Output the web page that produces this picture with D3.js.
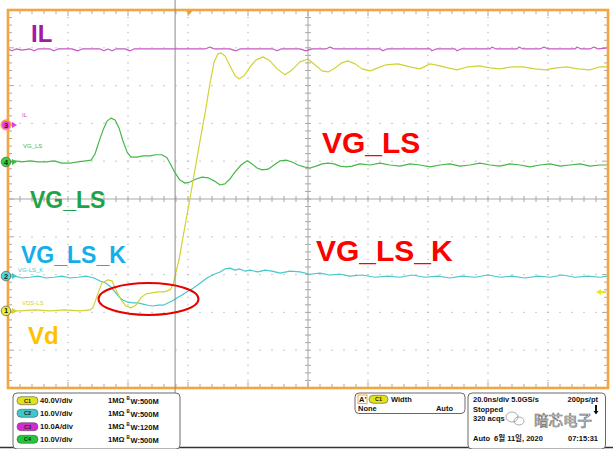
<!DOCTYPE html>
<html><head><meta charset="utf-8">
<script src="https://cdn.jsdelivr.net/npm/d3@7"></script>
<style>html,body{margin:0;padding:0;background:#fff;overflow:hidden}svg{display:block}text{font-family:"Liberation Sans",Arial,"Noto Sans CJK KR",sans-serif}</style>
</head><body><svg id="c" width="613" height="449"></svg>
<script>
// ---- scope settings ----
const timeWindow = [0, 200];            // ns, 20 ns/div, 10 div
const vertDivs = [-5, 5];
const channels = ["C1", "C2", "C3", "C4"];
const channelScales = [40, 10, 10, 10];  // units per division
const channelUnits = ["V/div", "V/div", "A/div", "V/div"];
const channelBW = ["500M", "500M", "120M", "500M"];
const channelOffsetsDiv = [-2.96, -2.04, 1.96, 0.98];
const channelNums = ["1", "2", "3", "4"];
const traceTags = ["VDS-LS", "VG-LS_K", "IL", "VG_LS"];
const bigLabels = ["Vd", "VG_LS_K", "IL", "VG_LS"];
const cursorTime = 55.7;
const triggerTime = 60.4;
const triggerLevelV = 20;

// ---- waveforms: [time ns, value] ----
const vdsPoints = [[0,0],[4,0],[9,1.0],[14,0],[19,1.0],[24,0],[27.3,1.0],[28.3,3.2],[29.7,15.9],[31.3,29.6],[33.3,32.8],[34.7,31.7],[36,22.2],[37.7,11.6],[39.3,5.3],[41,3.2],[42.7,6.3],[44.3,13.8],[46,18.0],[48,19.0],[50,20.1],[52,20.1],[54,22.2],[55,27.5],[56,41.3],[57,54.0],[59,90.0],[60.7,119.6],[62.3,149.3],[64,179.9],[65.7,209.5],[67.3,240.3],[68.7,263.5],[70,272.0],[71,273.0],[72.3,269.9],[74,259.3],[75.7,248.8],[77,245.5],[78.7,248.8],[80.7,258.3],[82.7,265.6],[85,268.8],[87.3,264.6],[89.7,256.1],[92.3,249.8],[94.7,255.0],[97.3,263.5],[100,266.6],[102.3,260.4],[104.7,254.0],[106.7,252.9],[109,257.1],[111.3,262.5],[113.3,264.6],[115.7,261.4],[118,256.1],[120.7,254.0],[123.3,257.1],[126,260.4],[130,261.4],[134,258.3],[137.3,256.1],[140.7,261.4],[144,259.3],[146.7,257.1],[149.7,255.0],[153.3,258.3],[157.3,259.3],[160.7,257.1],[164,256.1],[168,258.3],[171.7,258.3],[175.7,256.1],[179,255.0],[182.7,257.1],[186.3,258.3],[190,256.1],[194,255.0],[197.3,258.3],[200,258.3]];
const vgkPoints = [[0,-0.3],[2.3,0],[4.7,-0.5],[7.3,-0.3],[10,0],[12.7,-0.5],[15.3,-0.3],[18,0],[20.7,-0.5],[23.3,-0.3],[26,0],[28.7,-0.5],[30.7,-1.3],[32.7,-1.9],[34.3,-2.9],[35.7,-4.2],[37,-5.5],[38.3,-6.3],[40,-6.9],[41.7,-7.1],[43.3,-7.1],[45,-7.4],[46.7,-7.7],[48.3,-7.9],[50,-7.7],[51.7,-7.7],[53.3,-7.1],[54.7,-6.6],[56.3,-5.8],[58,-5.0],[60,-4.0],[61.7,-3.2],[64,-1.9],[66.3,-0.5],[68.7,0.5],[70.7,1.1],[72.3,1.9],[74,2.1],[75.7,1.6],[77.3,1.9],[79,1.3],[80.7,1.6],[83.3,1.1],[85.7,1.6],[88,1.3],[90.7,0.8],[94,1.3],[97.3,1.1],[100.7,0.5],[104,0.8],[107.3,0.3],[110.7,0.5],[114,0],[118,0.3],[122.3,-0.3],[126.7,0],[130.7,-0.3],[134.7,0.3],[139,-0.3],[143.3,0],[147.3,-0.5],[151.3,0],[155.7,-0.3],[160,0.3],[164,-0.3],[168,0],[172.3,-0.5],[176.7,0],[180.7,-0.3],[184.7,0.3],[189,-0.3],[193.3,0],[197.3,-0.3],[200,0]];
const ilPoints = [[0,20.1],[1.3,19.6],[2.7,20.1],[4.7,19.8],[7.3,20.1],[8.7,19.6],[10,20.1],[14,20.1],[15.3,19.6],[16.7,20.1],[21.3,20.1],[23.3,19.6],[24.7,20.1],[30.7,20.1],[32,19.6],[33.3,20.1],[34.7,19.6],[36,20.1],[39,20.1],[40.7,19.6],[42,20.1],[50.7,20.1],[57.3,20.1],[65.7,20.1],[67.3,20.6],[68.7,20.1],[74,20.1],[76,19.6],[77.3,20.1],[88.3,20.1],[89.7,19.6],[91,20.1],[97.3,20.1],[99.3,19.6],[101.3,20.1],[106,20.1],[107.3,20.6],[108.7,20.1],[124,20.1],[125,19.6],[126.3,20.1],[140.7,20.1],[141.3,19.6],[142.7,20.1],[149,20.1],[149.7,19.6],[151,20.1],[160.7,20.1],[161.3,20.6],[162.7,20.1],[169.7,20.1],[170.3,20.6],[171.7,20.1],[177.3,20.1],[178.7,20.6],[180,20.1],[189,20.1],[189.7,20.6],[191,20.1],[194,20.1],[195.3,20.6],[196.7,20.1],[200,20.4]];
const vgsPoints = [[0,0],[2.3,0.3],[4.7,0],[7.3,0.3],[10,0],[12.7,0],[15.3,0.3],[18,-0.3],[20.7,-0.3],[23.3,0],[26,0.3],[27.7,0.5],[29,2.1],[30.3,5.3],[31.7,8.5],[33,10.8],[34.3,11.6],[35.7,11.1],[37,9.0],[38.3,5.6],[39.7,2.6],[41,1.3],[43,1.3],[45,1.6],[47.3,1.6],[49.3,1.9],[51.3,1.9],[53,1.1],[54.3,-0.8],[55.7,-2.9],[57.3,-4.8],[59,-5.6],[60.7,-5.3],[62.7,-4.5],[64.7,-4.0],[66.7,-4.2],[68.7,-5.0],[70.7,-6.1],[72.3,-5.8],[74,-4.5],[75.7,-2.6],[77.7,-0.8],[79.7,0.3],[81.3,-0.5],[83,-1.6],[84.7,-2.1],[86.7,-1.9],[88.7,-0.8],[90.7,0.3],[92.7,0.5],[94.7,0],[96.7,-0.8],[98.7,-1.3],[100.7,-1.6],[102.7,-1.1],[104.7,-0.5],[106.7,-0.3],[108.7,-0.5],[110.7,-1.1],[112.7,-1.3],[114.7,-1.1],[117.3,-0.5],[120.7,-0.8],[124,-0.3],[127.3,-0.8],[130.7,-1.1],[134,-0.5],[137.3,-0.8],[140.7,-1.3],[144,-0.8],[147.3,-0.5],[150.7,-1.1],[154,-0.8],[157.3,-0.3],[160.7,-0.8],[164,-1.1],[167.3,-0.5],[170.7,-0.8],[174,-1.3],[177.3,-0.8],[180.7,-0.5],[184,-1.1],[187.3,-0.8],[190.7,-0.5],[194,-1.1],[197.3,-0.8],[200,-0.8]];
const tracePoints = [vdsPoints, vgkPoints, ilPoints, vgsPoints];

// info panel text
const timebaseText = ["20.0ns/div", "5.0GS/s", "200ps/pt"];
const statusText = ["Stopped", "320 acqs"];
const dateText = ["Auto", "6월 11일, 2020", "07:15:31"];
const measureText = ["A'", "C1", "Width", "None", "Auto"];
const watermark = "暗芯电子";

// ---- styles ----
const traceColors = ["#d2d236", "#46c8cc", "#c45ac4", "#45b848"];
const markerFill = ["#eeee3a", "#4fd8d8", "#f040f0", "#35d435"];
const pillColors = ["#e2e21a", "#3cc8cc", "#d42ad4", "#22c83a"];
const labelColors = ["#ffc000", "#14aeea", "#a418a8", "#1fa34a"];

const svg = d3.select("#c");
const x = d3.scaleLinear().domain(timeWindow).range([8, 608]);
const y = d3.scaleLinear().domain(vertDivs).range([388, 10]);
const toDiv = (ch, v) => channelOffsetsDiv[ch] + v / channelScales[ch];

// grid dots
const g = svg.append("g");
const minorT = d3.range(timeWindow[0], timeWindow[1] + 0.01, 4);
const minorD = d3.range(-5, 5.001, 0.2);
d3.range(1, 10).filter(i => i !== 5).forEach(i => {
  const t = i * 20;
  g.selectAll(null).data(minorD.slice(1, -1)).join("rect")
    .attr("x", x(t) - 0.6).attr("y", d => y(d) - 0.6).attr("width", 1.2).attr("height", 1.2).attr("fill", "#b4b4b4");
});
d3.range(-4, 5).filter(d => d !== 0).forEach(dv => {
  g.selectAll(null).data(minorT.slice(1, -1)).join("rect")
    .attr("x", d => x(d) - 0.6).attr("y", y(dv) - 0.6).attr("width", 1.2).attr("height", 1.2).attr("fill", "#b4b4b4");
});
// center axes
g.append("line").attr("x1", x(100)).attr("x2", x(100)).attr("y1", y(5)).attr("y2", y(-5)).attr("stroke", "#a8a8a8").attr("stroke-width", 1);
g.append("line").attr("x1", x(0)).attr("x2", x(200)).attr("y1", y(0)).attr("y2", y(0)).attr("stroke", "#a8a8a8").attr("stroke-width", 1);
g.selectAll(null).data(minorD).join("line").attr("x1", x(100) - 3).attr("x2", x(100) + 3).attr("y1", d => y(d)).attr("y2", d => y(d)).attr("stroke", "#a8a8a8");
g.selectAll(null).data(minorT).join("line").attr("y1", y(0) - 3).attr("y2", y(0) + 3).attr("x1", d => x(d)).attr("x2", d => x(d)).attr("stroke", "#a8a8a8");
// frame ticks
const isMajT = t => Math.abs(t / 20 - Math.round(t / 20)) < 1e-6;
const isMajD = d => Math.abs(d - Math.round(d)) < 1e-6;
g.selectAll(null).data(minorT).join("line").attr("x1", d => x(d)).attr("x2", d => x(d)).attr("y1", y(5)).attr("y2", d => y(5) + (isMajT(d) ? 6 : 4)).attr("stroke", "#a8a8a8");
g.selectAll(null).data(minorT).join("line").attr("x1", d => x(d)).attr("x2", d => x(d)).attr("y1", y(-5)).attr("y2", d => y(-5) - (isMajT(d) ? 6 : 4)).attr("stroke", "#a8a8a8");
g.selectAll(null).data(minorD).join("line").attr("y1", d => y(d)).attr("y2", d => y(d)).attr("x1", x(0)).attr("x2", d => x(0) + (isMajD(d) ? 6 : 4)).attr("stroke", "#a8a8a8");
g.selectAll(null).data(minorD).join("line").attr("y1", d => y(d)).attr("y2", d => y(d)).attr("x1", x(200)).attr("x2", d => x(200) - (isMajD(d) ? 6 : 4)).attr("stroke", "#a8a8a8");

// traces
const line = d3.line();
[2, 3, 1, 0].forEach(ch => {
  svg.append("path")
    .attr("d", line(tracePoints[ch].map(p => [x(p[0]), y(toDiv(ch, p[1]))])))
    .attr("fill", "none").attr("stroke", traceColors[ch]).attr("stroke-width", 1.2).attr("stroke-linejoin", "round");
});

// frame
svg.append("rect").attr("x", x(0)).attr("y", y(5)).attr("width", x(200) - x(0)).attr("height", y(-5) - y(5))
  .attr("fill", "none").attr("stroke", "#f2a541").attr("stroke-width", 2.6);

// cursor & trigger
svg.append("line").attr("x1", x(cursorTime)).attr("x2", x(cursorTime)).attr("y1", 0).attr("y2", 412).attr("stroke", "#8a8a8a").attr("stroke-width", 1);
svg.append("path").attr("d", `M${x(triggerTime) - 3},${y(5) + 1}h6l-3,4z`).attr("fill", "#f29a2e");
const tly = y(toDiv(0, triggerLevelV));
svg.append("path").attr("d", `M${x(200) - 12},${tly}l5,-3v2h5v2h-5v2z`).attr("fill", "#e8e820");

// channel markers
channels.forEach((c, ch) => {
  const my = y(channelOffsetsDiv[ch]);
  const m = svg.append("g");
  m.append("line").attr("x1", 8).attr("x2", 13).attr("y1", my).attr("y2", my).attr("stroke", traceColors[ch]).attr("stroke-width", 1);
  m.append("path").attr("d", `M12,${my - 3}l5,3l-5,3z`).attr("fill", ch === 2 ? "#e040e0" : traceColors[ch]);
  m.append("circle").attr("cx", 6).attr("cy", my).attr("r", 4.8).attr("fill", markerFill[ch])
    .attr("stroke", ch === 2 ? "#f2a541" : "#666").attr("stroke-width", ch === 2 ? 1.6 : 0.8);
  m.append("text").attr("x", 6).attr("y", my + 2.6).attr("text-anchor", "middle").attr("font-size", 7.5).attr("font-weight", "bold").attr("fill", "#222").text(channelNums[ch]);
});
// small trace tags
const tagPos = [[22, 305], [18, 271.5], [22, 117], [23, 148]];
traceTags.forEach((t, ch) => {
  svg.append("text").attr("x", tagPos[ch][0]).attr("y", tagPos[ch][1]).attr("font-size", 6).attr("fill", traceColors[ch]).text(t);
});

// annotations
const bigPos = [[28, 344, 24], [21, 263, 23], [31, 42, 24], [30, 208, 23]];
bigLabels.forEach((t, ch) => {
  svg.append("text").attr("x", bigPos[ch][0]).attr("y", bigPos[ch][1]).attr("font-size", bigPos[ch][2]).attr("font-weight", "bold").attr("fill", labelColors[ch]).text(t);
});
svg.append("text").attr("x", 322).attr("y", 153).attr("font-size", 30).attr("font-weight", "bold").attr("fill", "#ff0000").text(bigLabels[3]);
svg.append("text").attr("x", 316).attr("y", 261).attr("font-size", 30).attr("font-weight", "bold").attr("fill", "#ff0000").text(bigLabels[1]);
svg.append("ellipse").attr("cx", 148.5).attr("cy", 299).attr("rx", 50).attr("ry", 16).attr("fill", "none").attr("stroke", "#e80000").attr("stroke-width", 2);

// ---- bottom panels ----
svg.append("line").attr("x1", 0).attr("x2", 613).attr("y1", 447.5).attr("y2", 447.5).attr("stroke", "#333").attr("stroke-width", 1.5);
const panel = (x0, y0, w, h) => svg.append("rect").attr("x", x0).attr("y", y0).attr("width", w).attr("height", h).attr("rx", 4).attr("fill", "#fff").attr("stroke", "#6a6a6a").attr("stroke-width", 1);
panel(13, 393, 167, 56);
panel(355, 393, 110, 20.5);
panel(468, 393, 137.5, 56);
const txt = (s, x0, y0, opts = {}) => svg.append("text").attr("x", x0).attr("y", y0).attr("font-size", opts.size || 7.5)
  .attr("font-weight", opts.weight || "bold").attr("fill", opts.fill || "#111").attr("text-anchor", opts.anchor || "start").text(s);
const pill = (x0, cy, col, label, w = 21) => {
  svg.append("rect").attr("x", x0).attr("y", cy - 4).attr("width", w).attr("height", 8).attr("rx", 4).attr("fill", col).attr("stroke", "#555").attr("stroke-width", 0.6);
  txt(label, x0 + w / 2, cy + 2, { size: 5.5, anchor: "middle", fill: "#222" });
};
const rowY = [400.7, 413.3, 426.7, 439.3];
channels.forEach((c, ch) => {
  pill(17, rowY[ch], pillColors[ch], c);
  txt(channelScales[ch].toFixed(1) + channelUnits[ch], 40, rowY[ch] + 2.7);
  txt("1MΩ", 108, rowY[ch] + 2.7);
  txt("B", 126.5, rowY[ch] - 0.5, { size: 4.5 });
  txt("W:" + channelBW[ch], 130.5, rowY[ch] + 3.2);
});
// measurement panel
svg.append("rect").attr("x", 358).attr("y", 395).attr("width", 9).attr("height", 8.5).attr("fill", "#fff").attr("stroke", "#f2a541").attr("stroke-width", 1);
txt(measureText[0], 359, 402);
pill(369, 399.3, pillColors[0], measureText[1], 19);
txt(measureText[2], 391, 402);
txt(measureText[3], 358, 411);
txt(measureText[4], 453, 411, { anchor: "end" });
// timebase panel
txt(timebaseText[0] + " " + timebaseText[1], 473, 402);
txt(timebaseText[2], 598, 402, { anchor: "end" });
txt(statusText[0], 473, 411.5);
txt(statusText[1], 473, 421);
txt(dateText[0], 473, 441);
txt(dateText[1], 494, 441);
txt(dateText[2], 598, 441, { anchor: "end" });
svg.append("path").attr("d", "M595,405v6h-1.5l2.5,3.5l2.5,-3.5h-1.5v-6z").attr("fill", "#111");
// watermark
const wm = svg.append("g").attr("fill", "none").attr("stroke", "#888").attr("stroke-width", 0.7);
wm.append("ellipse").attr("cx", 512).attr("cy", 417).attr("rx", 6).attr("ry", 5);
wm.append("ellipse").attr("cx", 519).attr("cy", 421).attr("rx", 5).attr("ry", 4);
svg.append("text").attr("x", 534).attr("y", 426).attr("font-size", 14.5).attr("font-family", "Noto Sans CJK SC")
  .attr("fill", "#f4f4f4").attr("stroke", "#666").attr("stroke-width", 0.6).text(watermark);
</script></body></html>
